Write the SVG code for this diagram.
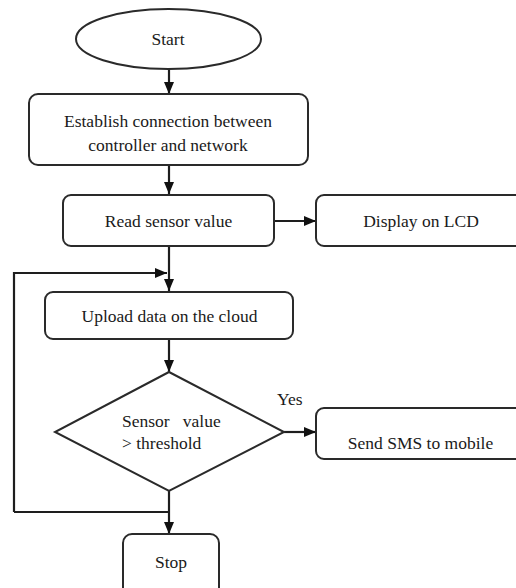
<svg xmlns="http://www.w3.org/2000/svg" width="516" height="588" viewBox="0 0 516 588">
  <style>
    .node { fill: #ffffff; stroke: #2a2a2a; stroke-width: 2; }
    .lbl { font-family: "Liberation Serif", "Times New Roman", "DejaVu Serif", serif; font-size: 17.5px; fill: #1a1a1a; }
    .mid { text-anchor: middle; }
    .wire { fill: none; stroke: #1e1e1e; stroke-width: 2.2; }
  </style>
  <defs>
    <marker id="arrow" viewBox="0 0 12 10" refX="12" refY="5" markerWidth="12" markerHeight="10" markerUnits="userSpaceOnUse" orient="auto">
      <path d="M0,0 L12,5 L0,10 z" fill="#111111"/>
    </marker>
  </defs>
  <rect width="516" height="588" fill="#ffffff"/>

  <!-- flow connectors -->
  <g id="connectors">
    <path class="wire" d="M169,69 V94" marker-end="url(#arrow)"/>
    <path class="wire" d="M169,165 V194" marker-end="url(#arrow)"/>
    <path class="wire" d="M274,221 H316" marker-end="url(#arrow)"/>
    <path class="wire" d="M169,246 V291" marker-end="url(#arrow)"/>
    <path class="wire" d="M14,512 V273 H167" marker-end="url(#arrow)"/>
    <path class="wire" d="M169,339 V372" marker-end="url(#arrow)"/>
    <path class="wire" d="M284,432 H316" marker-end="url(#arrow)"/>
    <path class="wire" d="M169,491 V534" marker-end="url(#arrow)"/>
    <path class="wire" d="M14,512 H169"/>
    <text class="lbl" x="277" y="405">Yes</text>
  </g>

  <g id="start">
    <ellipse class="node" cx="168.5" cy="39" rx="92.5" ry="30"/>
    <text class="lbl mid" x="168" y="45">Start</text>
  </g>

  <g id="connect">
    <rect class="node" x="29" y="94" width="279" height="71" rx="9"/>
    <text class="lbl mid" x="168" y="127">Establish connection between</text>
    <text class="lbl mid" x="168" y="151">controller and network</text>
  </g>

  <g id="read">
    <rect class="node" x="63" y="195" width="211" height="51" rx="8"/>
    <text class="lbl mid" x="168.5" y="227">Read sensor value</text>
  </g>

  <g id="display">
    <rect class="node" x="316" y="195" width="210" height="51" rx="8"/>
    <text class="lbl mid" x="421" y="227">Display on LCD</text>
  </g>

  <g id="upload">
    <rect class="node" x="45" y="292" width="248" height="47" rx="8"/>
    <text class="lbl mid" x="169.5" y="322">Upload data on the cloud</text>
  </g>

  <g id="decision">
    <polygon class="node" points="169,372 284,432 169,491 55,432"/>
    <text class="lbl" x="122" y="427" xml:space="preserve">Sensor   value</text>
    <text class="lbl" x="122" y="449">&gt; threshold</text>
  </g>

  <g id="sms">
    <rect class="node" x="316" y="408" width="210" height="51" rx="8"/>
    <text class="lbl mid" x="420.5" y="449">Send SMS to mobile</text>
  </g>

  <g id="stop">
    <rect class="node" x="123" y="534" width="96" height="70" rx="9"/>
    <text class="lbl mid" x="171" y="568">Stop</text>
  </g>
</svg>
